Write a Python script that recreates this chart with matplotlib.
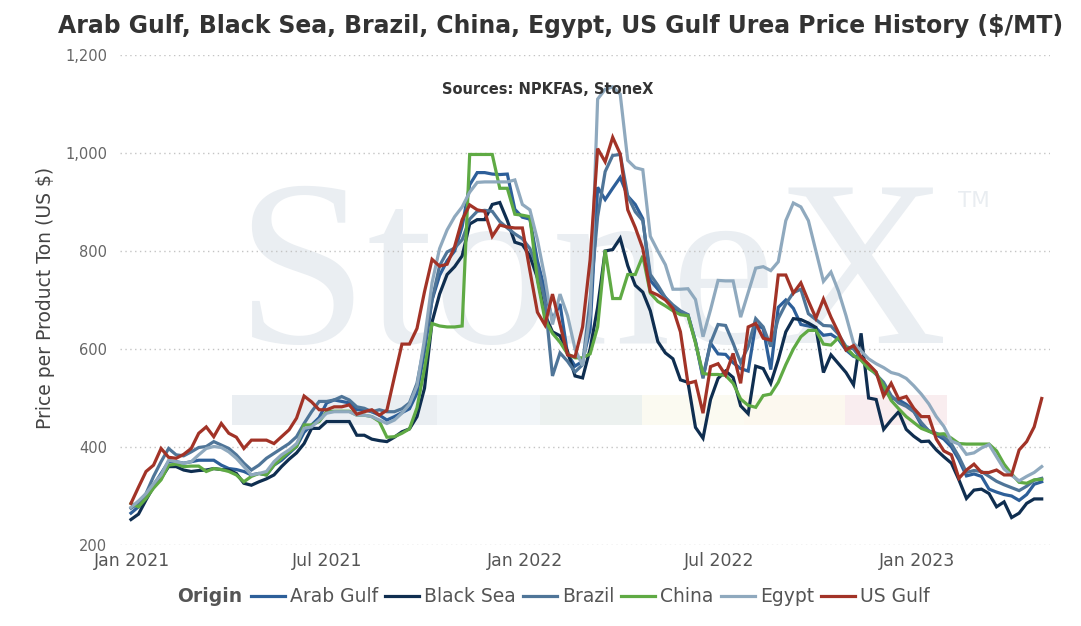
import matplotlib
matplotlib.use('Agg')
import matplotlib.pyplot as plt
from matplotlib.lines import Line2D
from matplotlib.patches import Rectangle
from matplotlib.ticker import FuncFormatter, FixedLocator
import pandas as pd

W, H = 1081, 626

# ---------------- data (weekly) ----------------
dates = pd.date_range('2020-12-31', periods=122, freq='7D')

arab_gulf = [265, 278, 295, 322, 346, 370, 370, 367, 370, 373,
             373, 373, 363, 356, 354, 350, 343, 346, 343, 363,
             373, 387, 401, 430, 445, 460, 490, 496, 493, 490,
             476, 476, 472, 465, 455, 462, 470, 478, 510, 595,
             700, 750, 780, 800, 850, 935, 960, 960, 957, 956,
             957, 885, 869, 865, 780, 720, 660, 692, 590, 565,
             575, 640, 930, 905, 928, 950, 912, 895, 866, 740,
             722, 705, 686, 674, 670, 615, 543, 612, 590, 589,
             572, 560, 555, 650, 642, 558, 685, 700, 683, 650,
             647, 643, 628, 630, 620, 598, 585, 580, 566, 552,
             518, 500, 496, 487, 474, 445, 433, 425, 416, 400,
             374, 341, 345, 340, 314, 308, 303, 300, 291, 303,
             324, 329]

black_sea = [252, 263, 292, 319, 336, 360, 360, 353, 350, 352,
             353, 356, 354, 353, 346, 326, 322, 329, 335, 343,
             360, 375, 388, 407, 438, 438, 452, 452, 452, 452,
             424, 424, 416, 413, 411, 420, 431, 437, 462, 520,
             655, 712, 752, 768, 790, 855, 864, 864, 895, 899,
             862, 818, 813, 790, 745, 670, 635, 627, 595, 545,
             541, 600, 685, 800, 803, 826, 770, 730, 716, 678,
             615, 592, 580, 537, 532, 440, 418, 497, 540, 555,
             542, 484, 468, 565, 560, 530, 578, 635, 662, 660,
             653, 644, 552, 588, 570, 552, 527, 632, 500, 497,
             436, 455, 472, 436, 422, 411, 412, 394, 380, 367,
             333, 295, 312, 314, 305, 278, 288, 256, 265, 285,
             294, 294]

brazil = [275, 285, 305, 340, 370, 397, 384, 382, 390, 399,
          401, 411, 404, 397, 384, 367, 353, 363, 377, 387,
          397, 407, 421, 448, 472, 493, 493, 496, 503, 496,
          482, 479, 472, 476, 472, 472, 478, 490, 530, 610,
          700, 770, 798, 806, 823, 865, 881, 883, 881, 860,
          847, 835, 825, 805, 765, 700, 545, 592, 575, 553,
          568, 700, 870, 962, 995, 997, 912, 880, 862, 752,
          730, 705, 690, 678, 670, 615, 540, 612, 650, 648,
          612, 572, 605, 662, 645, 605, 662, 692, 715, 722,
          672, 660, 648, 647, 630, 605, 600, 580, 563, 548,
          532, 505, 490, 483, 472, 450, 433, 428, 421, 406,
          380, 348, 352, 350, 340, 330, 323, 317, 311, 320,
          332, 336]

china = [285, 278, 295, 316, 333, 363, 365, 360, 361, 361,
         350, 356, 354, 350, 343, 329, 340, 346, 343, 363,
         377, 390, 401, 445, 445, 452, 472, 473, 473, 473,
         465, 465, 462, 452, 420, 421, 428, 437, 480, 560,
         652, 647, 645, 645, 647, 997, 997, 997, 997, 928,
         928, 875, 873, 870, 740, 660, 632, 614, 590, 582,
         582, 590, 645, 802, 703, 703, 752, 752, 790, 714,
         697, 688, 678, 670, 668, 612, 550, 548, 548, 546,
         530, 498, 485, 481, 505, 508, 532, 568, 600, 625,
         638, 638, 610, 608, 623, 603, 587, 577, 560, 550,
         525, 495, 478, 462, 450, 438, 432, 426, 427, 418,
         407, 406, 406, 406, 406, 392, 365, 345, 328, 326,
         333, 334]

egypt = [277, 290, 305, 325, 343, 373, 370, 367, 370, 384,
         397, 401, 399, 390, 377, 360, 343, 346, 350, 370,
         384, 394, 407, 438, 441, 455, 469, 472, 472, 472,
         465, 465, 462, 455, 448, 455, 469, 487, 525, 620,
         735, 805, 843, 870, 890, 920, 940, 941, 941, 941,
         941, 945, 895, 884, 823, 745, 650, 712, 668, 600,
         566, 670, 1110, 1130, 1135, 1120, 985, 970, 966, 830,
         800, 772, 722, 722, 723, 701, 625, 680, 740, 739,
         739, 665, 715, 765, 768, 760, 778, 862, 898, 890,
         862, 800, 738, 757, 718, 668, 612, 596, 580, 570,
         562, 552, 548, 540, 525, 508, 488, 462, 442, 412,
         406, 385, 388, 398, 405, 380, 355, 342, 331, 340,
         348, 360]

us_gulf = [285, 318, 350, 363, 397, 379, 377, 385, 397, 428,
           441, 421, 448, 428, 420, 397, 414, 414, 414, 407,
           421, 435, 459, 504, 492, 476, 476, 482, 482, 486,
           467, 472, 476, 465, 475, 543, 610, 610, 642, 717,
           783, 769, 773, 809, 864, 894, 884, 881, 830, 853,
           849, 847, 847, 760, 675, 649, 712, 650, 588, 584,
           645, 782, 1009, 982, 1032, 998, 884, 848, 805, 717,
           710, 700, 683, 635, 530, 534, 469, 564, 570, 547,
           591, 530, 645, 652, 622, 618, 751, 751, 714, 735,
           698, 663, 702, 665, 633, 598, 607, 584, 569, 553,
           504, 530, 498, 503, 479, 462, 462, 416, 392, 384,
           336, 353, 365, 348, 348, 353, 343, 343, 394, 411,
           441, 499]

series_names = ['Arab Gulf', 'Black Sea', 'Brazil', 'China', 'Egypt', 'US Gulf']
series_values = [arab_gulf, black_sea, brazil, china, egypt, us_gulf]
colors = ['#2d5f99', '#0f2e50', '#4f7598', '#5faa44', '#8fa9be', '#a23327']

tick_dates = ['2021-01-01', '2021-07-01', '2022-01-01', '2022-07-01', '2023-01-01']
tick_labels = ['Jan 2021', 'Jul 2021', 'Jan 2022', 'Jul 2022', 'Jan 2023']
y_ticks = [200, 400, 600, 800, 1000, 1200]

title = 'Arab Gulf, Black Sea, Brazil, China, Egypt, US Gulf Urea Price History ($/MT)'
subtitle = 'Sources: NPKFAS, StoneX'
ylabel = 'Price per Product Ton (US $)'
legend_title = 'Origin'

# ---------------- figure ----------------
fig = plt.figure(figsize=(W / 100, H / 100), dpi=100)
renderer = fig.canvas.get_renderer()


def fx(x):
    return x / W


def fy(y):
    return 1 - y / H


def fit_width(txt, target):
    w = txt.get_window_extent(renderer).width
    txt.set_fontsize(txt.get_fontsize() * target / w)


ax = fig.add_axes([fx(120), fy(545), (1050 - 120) / W, (545 - 55) / H])
ax.set_xlim(pd.Timestamp('2020-12-20 19:00'), pd.Timestamp('2023-05-04 17:00'))
ax.set_ylim(200, 1200)

for s in ax.spines.values():
    s.set_visible(False)

ax.yaxis.set_major_locator(FixedLocator(y_ticks))
ax.yaxis.set_major_formatter(FuncFormatter(lambda v, p: f'{int(v):,}'))
ax.set_xticks(pd.to_datetime(tick_dates))
ax.set_xticklabels(tick_labels)
ax.tick_params(axis='x', length=0, pad=5, labelsize=12.5, labelcolor='#555555')
ax.tick_params(axis='y', length=0, pad=9, labelsize=10.5, labelcolor='#666666')
ax.set_axisbelow(True)
ax.yaxis.grid(True, linestyle=(0, (1, 2.5)), color='#c4c4c4', linewidth=1)
ax.xaxis.grid(False)

# watermark
wm = ax.text(fx(235), fy(343), 'StoneX', transform=fig.transFigure,
             family='Liberation Serif', fontsize=180, color='#eaeef2',
             ha='left', va='baseline', zorder=0.1, clip_on=False)
fit_width(wm, 712)
ax.text(fx(958), fy(207), 'TM', transform=fig.transFigure, family='DejaVu Sans',
        fontsize=15.5, color='#e9edf1', ha='left', va='baseline', zorder=0.1)
band_edges = [232, 335, 437, 540, 642, 744, 845, 947]
band_colors = ['#eaeef2', '#eaeef2', '#f1f5f8', '#ecf1ef', '#fbfaf1', '#fcf8ef', '#f9edef']
for i, c in enumerate(band_colors):
    ax.add_patch(Rectangle((fx(band_edges[i]), fy(425)),
                           (band_edges[i + 1] - band_edges[i]) / W, 30 / H,
                           transform=fig.transFigure, facecolor=c, edgecolor='none',
                           zorder=0.1, clip_on=False))

# lines
for name, vals, col in zip(series_names, series_values, colors):
    ax.plot(dates, vals, color=col, lw=2.3, solid_joinstyle='miter', zorder=2, label=name)

# texts
t = fig.text(fx(561), fy(26), title, ha='center', va='center', fontsize=16,
             fontweight='bold', color='#333333')
fit_width(t, 1008)
st = fig.text(fx(548), fy(89), subtitle, ha='center', va='center', fontsize=10,
              fontweight='bold', color='#333333')
fit_width(st, 212)
yl = fig.text(fx(46), fy(298), ylabel, rotation=90, ha='center', va='center',
              fontsize=13.5, color='#444444')

# legend (manual, bottom row)
ly = fy(596)
x = 177
ot = fig.text(fx(x), ly, legend_title, ha='left', va='center', fontsize=13.5,
              fontweight='bold', color='#555555')
x += ot.get_window_extent(renderer).width + 9
for name, col in zip(series_names, colors):
    fig.add_artist(Line2D([fx(x), fx(x + 34)], [ly, ly], color=col, lw=2.3,
                          transform=fig.transFigure))
    x += 34 + 5
    lt = fig.text(fx(x), ly, name, ha='left', va='center', fontsize=13.5, color='#555555')
    x += lt.get_window_extent(renderer).width + 7

fig.savefig('out.png', dpi=100)
